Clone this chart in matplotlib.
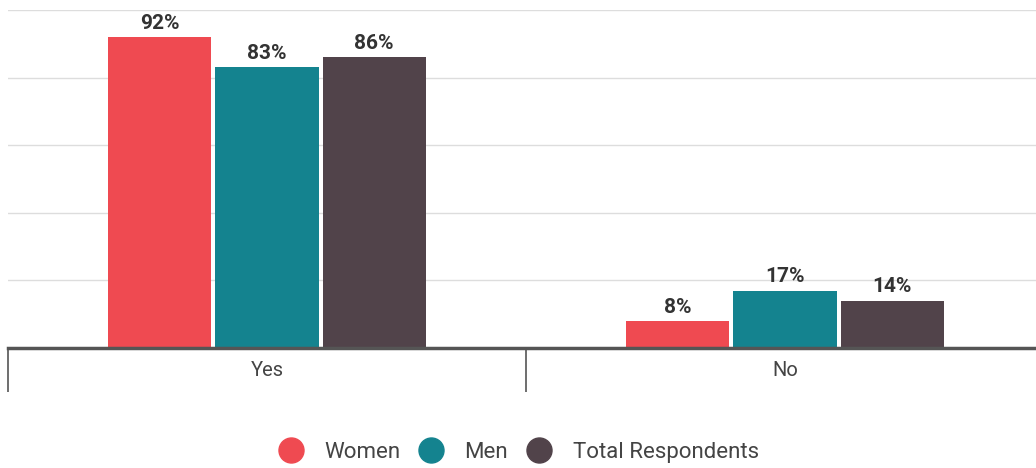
import numpy as np
import matplotlib
matplotlib.use("Agg")
import matplotlib.pyplot as plt
from matplotlib.lines import Line2D

plt.rcParams['font.family'] = ['Roboto', 'DejaVu Sans']

categories = ['Yes', 'No']
series = ['Women', 'Men', 'Total Respondents']
women = [92, 8]
men = [83, 17]
total = [86, 14]
colors = ['#EF4A51', '#14838F', '#51434A']

fig = plt.figure(figsize=(10.36, 4.68), dpi=100)
ax = fig.add_axes([8 / 1036, 120 / 468, 1036 / 1036, 338 / 468])

x = np.arange(len(categories))
pitch = 0.207
for i, (vals, c) in enumerate(zip([women, men, total], colors)):
    pos = x + (i - 1) * pitch
    ax.bar(pos, vals, width=0.199, color=c, zorder=3)
    for p, v in zip(pos, vals):
        ax.text(p, v + 1.3, f'{v}%', ha='center', va='bottom',
                fontsize=15, fontweight='bold', color='#333333')

ax.set_xlim(-0.5, 1.5)
ax.set_ylim(0, 100)
ax.set_yticks([0, 20, 40, 60, 80, 100])
ax.yaxis.grid(True, color='#dddddd', linewidth=1)
ax.tick_params(axis='y', length=0, labelleft=False)
for s in ['top', 'right', 'left']:
    ax.spines[s].set_visible(False)
ax.spines['bottom'].set_color('#555555')
ax.spines['bottom'].set_linewidth(2.5)
ax.spines['bottom'].set_zorder(4)

ax.set_xticks(x)
ax.set_xticklabels(categories, fontsize=14.5, color='#444444')
ax.tick_params(axis='x', which='major', length=0, pad=9)
ax.set_xticks([-0.5, 0.5, 1.5], minor=True)
ax.tick_params(axis='x', which='minor', length=32, width=1.2, color='#555555')

handles = [Line2D([], [], marker='o', linestyle='', markersize=18,
                  markerfacecolor=c, markeredgecolor=c) for c in colors]
fig.legend(handles, series, loc='center', bbox_to_anchor=(0.5, 0.033),
           ncol=3, frameon=False, fontsize=16, handlelength=1.2,
           handletextpad=0.9, columnspacing=0.8, labelcolor='#444444')

fig.savefig('out.png', dpi=100)
